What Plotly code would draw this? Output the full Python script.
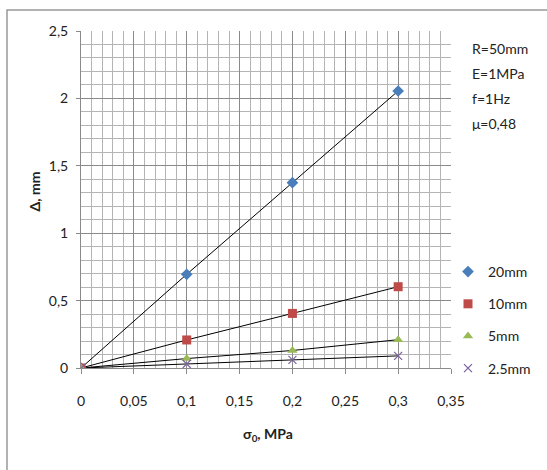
import plotly.graph_objects as go

x = [0, 0.1, 0.2, 0.3]
series_names = ["20mm", "10mm", "5mm", "2.5mm"]
s20 = [0, 0.695, 1.375, 2.055]
s10 = [0, 0.208, 0.405, 0.603]
s5 = [0, 0.07, 0.13, 0.21]
s25 = [0, 0.03, 0.06, 0.09]
colors = ["#4a7ebb", "#be4b48", "#98b954", "#7d60a0"]
symbols = ["diamond", "square", "triangle-up", "x-thin"]
params = ["R=50mm", "E=1MPa", "f=1Hz", "μ=0,48"]
xticks = [0, 0.05, 0.1, 0.15, 0.2, 0.25, 0.3, 0.35]
yticks = [0, 0.5, 1, 1.5, 2, 2.5]

W, H = 547, 470
L, R, T, B = 81, 96, 31, 102
pw, ph = W - L - R, H - T - B

def px(xp):
    return (xp - L) / pw

def py(yp):
    return (H - B - yp) / ph

fig = go.Figure()
all_series = [s20, s10, s5, s25]
for name, ys in zip(series_names, all_series):
    fig.add_trace(go.Scatter(x=x, y=ys, mode="lines", line=dict(color="black", width=1),
                             showlegend=False, hoverinfo="skip"))
for name, ys, c, sym in zip(series_names, all_series, colors, symbols):
    mk = dict(color=c, symbol=sym, size=9)
    if sym == "x-thin":
        mk = dict(color=c, symbol=sym, size=8, line=dict(color=c, width=1.2))
    fig.add_trace(go.Scatter(x=x, y=ys, mode="markers", name=name, marker=mk, legendgroup=name))

font = "Lato, Carlito, Liberation Sans, sans-serif"
fig.update_layout(
    width=W, height=H,
    margin=dict(l=L, r=R, t=T, b=B, autoexpand=False),
    paper_bgcolor="white", plot_bgcolor="white",
    separators=", ",
    font=dict(family=font, size=13, color="#222"),
    showlegend=True,
    legend=dict(x=px(448), y=py(256), xanchor="left", yanchor="top",
                font=dict(size=14, color="#222"), tracegroupgap=11,
                itemsizing="trace", bgcolor="rgba(0,0,0,0)"),
    xaxis=dict(range=[0, 0.35], tickvals=xticks, showgrid=True, gridcolor="#8a8a8a", gridwidth=1,
               minor=dict(dtick=0.01, showgrid=True, gridcolor="#b4b4b4", gridwidth=1),
               zeroline=False, showline=True, linecolor="#8a8a8a", ticks="outside", ticklen=5,
               tickcolor="#8a8a8a", ticklabelstandoff=15, tickfont=dict(size=14, color="#222"),
               mirror=False),
    yaxis=dict(range=[0, 2.5], tickvals=yticks, showgrid=True, gridcolor="#8a8a8a", gridwidth=1,
               minor=dict(dtick=0.1, showgrid=True, gridcolor="#b4b4b4", gridwidth=1),
               zeroline=False, showline=True, linecolor="#8a8a8a", ticks="outside", ticklen=4,
               tickcolor="#8a8a8a", ticklabelstandoff=5, tickfont=dict(size=14, color="#222")),
)
fig.add_shape(type="rect", xref="paper", yref="paper", x0=px(7), x1=px(560), y0=py(480), y1=py(10),
              line=dict(color="#999", width=1.5), fillcolor="rgba(0,0,0,0)", layer="below")
fig.add_annotation(xref="paper", yref="paper", x=px(268), y=py(446), text="<b>σ<sub>0</sub>, MPa</b>",
                   showarrow=False, font=dict(size=14, color="#222"))
fig.add_annotation(xref="paper", yref="paper", x=px(24), y=py(192), text="<b>Δ, mm</b>", textangle=-90,
                   showarrow=False, font=dict(size=14, color="#222"))
for i, t in enumerate(params):
    fig.add_annotation(xref="paper", yref="paper", x=px(470), y=py(38 + 25 * i), text=t,
                       xanchor="left", showarrow=False, font=dict(size=14, color="#222"))

fig.write_html("out.html")
